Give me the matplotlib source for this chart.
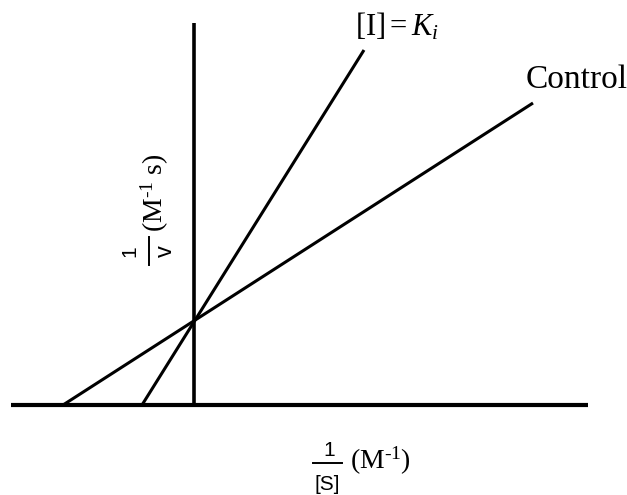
import matplotlib
matplotlib.use("Agg")
import matplotlib.pyplot as plt
import matplotlib.transforms as mtransforms
from matplotlib.lines import Line2D

plt.rcParams["mathtext.fontset"] = "custom"
plt.rcParams["mathtext.rm"] = "Liberation Serif"
plt.rcParams["mathtext.it"] = "Liberation Serif:italic"
plt.rcParams["mathtext.sf"] = "Liberation Sans"

# Lineweaver-Burk lines (1/[S], 1/v)
control_x = [-1.31, 3.39]
control_y = [0.0, 3.02]
ki_x = [-0.52, 1.70]
ki_y = [0.0, 3.55]

# extent of the drawn axes
x_axis = [-1.83, 3.94]
y_axis = [0.0, 3.82]

W, H = 627, 495
fig = plt.figure(figsize=(W / 100, H / 100), dpi=100)
ax = fig.add_axes([0, 0, 1, 1])
ax.set_xlim(-1.94, 4.33)
ax.set_ylim(-0.90, 4.05)
ax.axis("off")

# pixel coords measured from the top-left, for placing the labels
pix = mtransforms.Affine2D().scale(1, -1).translate(0, H)

# axes as thick black lines
ax.plot(x_axis, [0, 0], color="black", lw=3.0, solid_capstyle="butt")
ax.plot([0, 0], y_axis, color="black", lw=2.6, solid_capstyle="butt")

# the two lines
ax.plot(control_x, control_y, color="black", lw=2.2, solid_capstyle="butt")
ax.plot(ki_x, ki_y, color="black", lw=2.2, solid_capstyle="butt")

# line labels
ax.text(3.32, 3.17, "Control", fontsize=24, family="Liberation Serif",
        ha="left", va="baseline")
ax.text(1.61, 3.70, r"$[\mathrm{I}] = K_i$", fontsize=22,
        ha="left", va="baseline")

# x label: 1/[S] (M^-1)
sans = dict(family="Liberation Sans", ha="center", va="center", transform=pix)
fig.text(329, 451, "1", fontsize=15, **sans)
fig.text(327, 484, "[S]", fontsize=15, **sans)
fig.add_artist(Line2D([313, 342], [463, 463], color="black", lw=1.4, transform=pix))
fig.text(350, 469, r"(M$^{\text{-1}}$)", fontsize=20, family="Liberation Serif",
         ha="left", va="baseline", transform=pix)

# y label: 1/v (M^-1 s), rotated
fig.text(130, 251, "1", fontsize=15, rotation=90, rotation_mode="anchor", **sans)
fig.text(166, 251, "v", fontsize=17, rotation=90, rotation_mode="anchor", **sans)
fig.add_artist(Line2D([149, 149], [237, 265], color="black", lw=1.4, transform=pix))
fig.text(163, 232, r"(M$^{\text{-1}}$ s)", fontsize=20, family="Liberation Serif",
         ha="left", va="baseline", rotation=90, rotation_mode="anchor",
         transform=pix)

plt.savefig("out.png", dpi=100)
